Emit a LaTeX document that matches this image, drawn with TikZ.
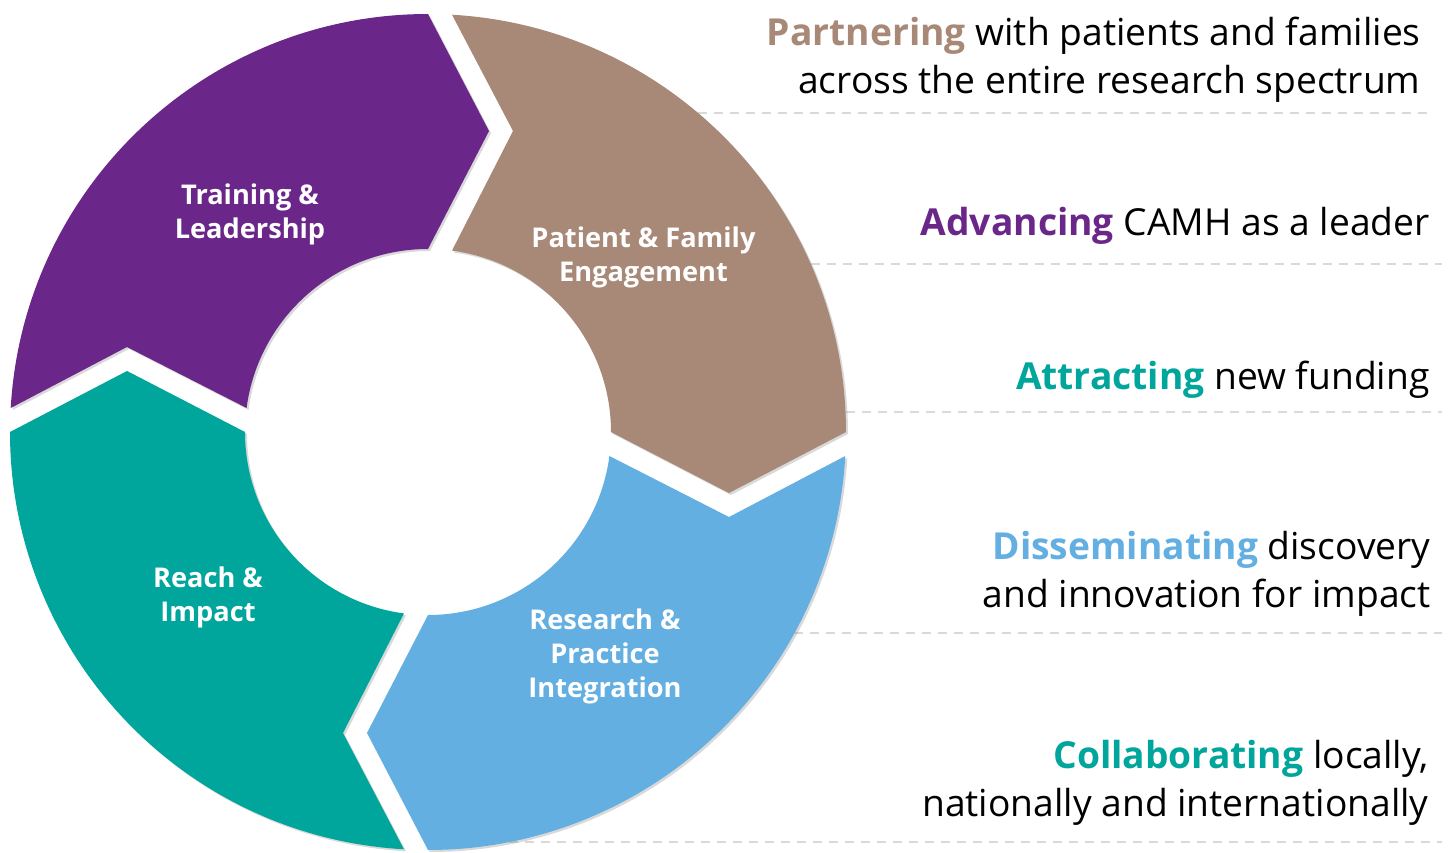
\documentclass[tikz,border=0pt]{standalone}
\usepackage{fontspec}
\setmainfont{Open Sans}
\usetikzlibrary{shadows}

\definecolor{camhpurple}{HTML}{6B2689}
\definecolor{camhbrown}{HTML}{A88876}
\definecolor{camhblue}{HTML}{63AFE2}
\definecolor{camhteal}{HTML}{00A59B}
\definecolor{rulegrey}{HTML}{D9D9D9}

\begin{document}
\begin{tikzpicture}[x=1pt,y=1pt]
        \tikzstyle{ringpart}=[drop shadow={shadow xshift=1pt,shadow yshift=-1pt,opacity=.3}]
        \tikzstyle{stage}=[text=white,align=center,inner sep=0pt,
                           font=\bfseries\fontsize{13.6}{17}\selectfont]
        \tikzstyle{aim}=[anchor=east,align=right,inner sep=0pt,
                         font=\fontsize{18.6}{24}\selectfont]
        \tikzstyle{divider}=[rulegrey,line width=1pt,dash pattern=on 4.5pt off 3.5pt]

        \useasboundingbox (-214,-210) rectangle (512,216);

        % dashed rules, each one starts at the rim of the ring
        \foreach \x/\y/\xend in {135.1/159.5/501, 191.4/84/507, 208.8/10/507,
                                 183.2/-100.5/507, 40.7/-205/507}
          \draw[divider] (\x,\y) -- (\xend,\y);

        % four chevron parts of the ring, turned by a quarter each
        \foreach \col/\a in {camhpurple/0, camhbrown/270, camhblue/180, camhteal/90}
          \fill[ringpart,\col] (176.71+\a:209) -- (164.23+\a:156.4) -- (172.46+\a:91.5)
            arc[start angle=172.46+\a, end angle=90+\a, radius=91.5]
            -- (78.54+\a:153.55) -- (90+\a:209)
            arc[start angle=90+\a, end angle=176.71+\a, radius=209] -- cycle;

        \node[stage] (train) at (-89,109) {Training \&\\Leadership};
        \node[stage] (patient) at (107.75,87.5) {Patient \& Family\\Engagement};
        \node[stage] (research) at (88.5,-112) {Research \&\\Practice\\Integration};
        \node[stage] (reach) at (-110,-82.5) {Reach \&\\Impact};

        \node[aim] (partner) at (496.5,186.25)
          {{\bfseries\color{camhbrown}Partnering} with patients and families\\
           across the entire research spectrum};
        \node[aim] (advance) at (501,103)
          {{\bfseries\color{camhpurple}Advancing} CAMH as a leader};
        \node[aim] (attract) at (501,26)
          {{\bfseries\color{camhteal}Attracting} new funding};
        \node[aim] (spread) at (501.5,-71)
          {{\bfseries\color{camhblue}Disseminating} discovery\\
           and innovation for impact};
        \node[aim] (collab) at (500.5,-175.5)
          {{\bfseries\color{camhteal}Collaborating} locally,\\
           nationally and internationally};
      \end{tikzpicture}
\end{document}
